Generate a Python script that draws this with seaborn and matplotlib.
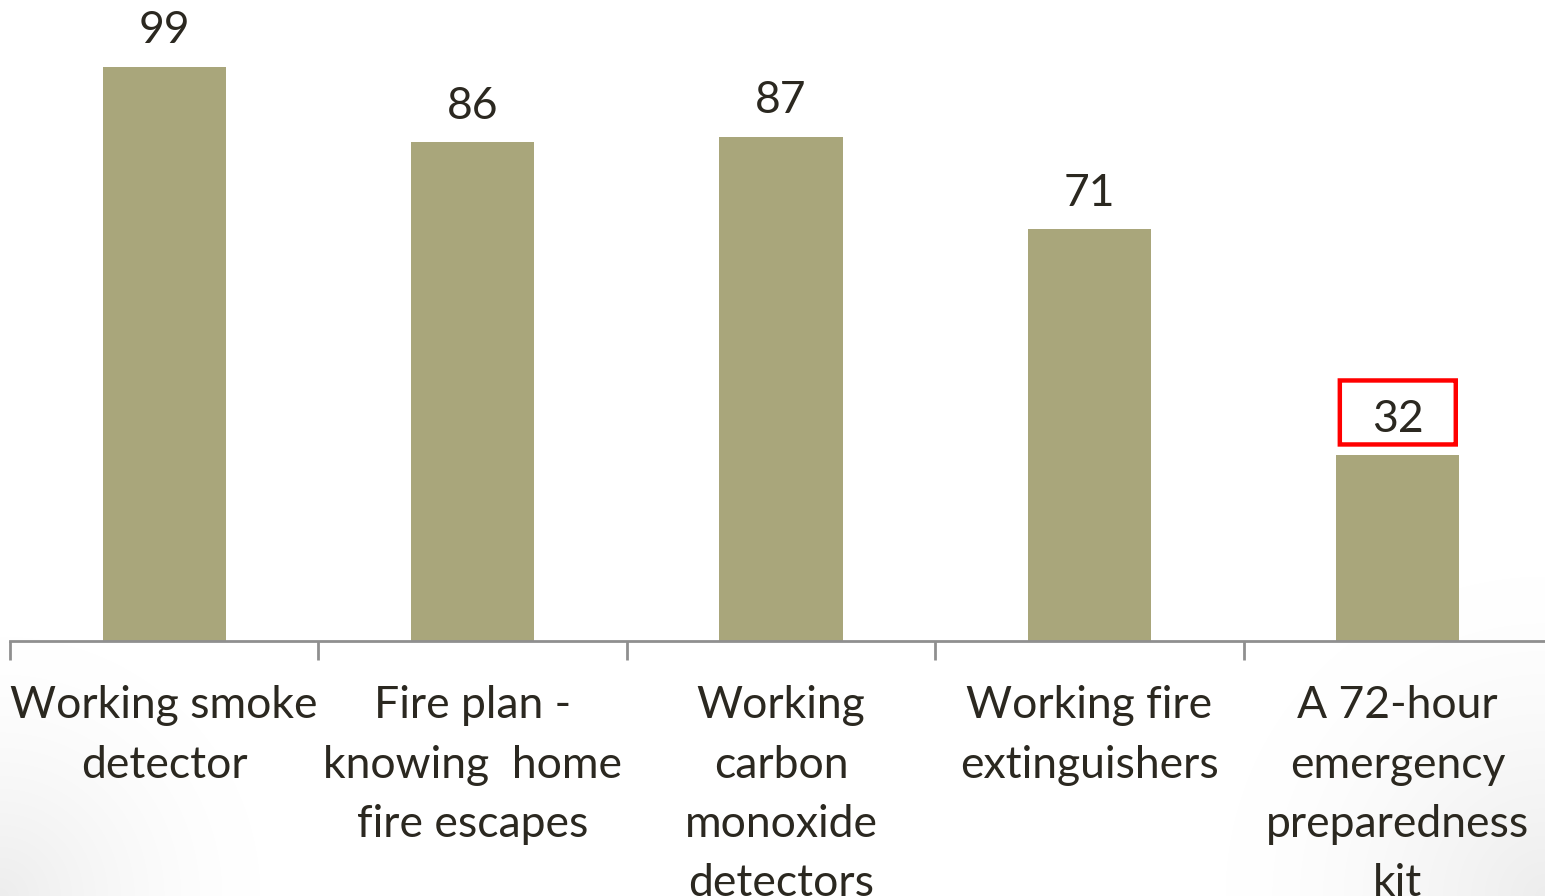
import matplotlib
matplotlib.use("Agg")
import matplotlib.pyplot as plt
import seaborn as sns
import pandas as pd
import numpy as np
from matplotlib.patches import FancyBboxPatch

categories = ["Working smoke\ndetector",
              "Fire plan -\nknowing  home\nfire escapes",
              "Working\ncarbon\nmonoxide\ndetectors",
              "Working fire\nextinguishers",
              "A 72-hour\nemergency\npreparedness\nkit"]
values = [99, 86, 87, 71, 32]
highlight_index = 4

BAR = "#A9A67B"
TXT = "#2B2820"
AXC = "#8F8F8F"

sns.set_theme(style="white")
plt.rcParams['font.family'] = ['Lato', 'DejaVu Sans']

df = pd.DataFrame({"cat": categories, "val": values})

fig = plt.figure(figsize=(15.45, 8.96), dpi=100)
W, H = 1545, 896

# subtle vignette in the bottom corners of the slide background
bg = fig.add_axes([0, 0, 1, 1], zorder=-10)
yy, xx = np.mgrid[0:H, 0:W]
d1 = np.hypot(xx - 0, yy - H)
d2 = np.hypot(xx - W, yy - H)
shade = 0.07 * (np.clip(1 - d1 / 260, 0, 1) ** 1.5 + np.clip(1 - d2 / 320, 0, 1) ** 1.5)
img = np.clip(1 - shade, 0, 1)
bg.imshow(np.dstack([img] * 3), aspect="auto", extent=(0, W, H, 0))
bg.set_axis_off()

base_px = 641
ax = fig.add_axes([10 / W, (H - base_px) / H, 1542 / W, base_px / H])

sns.barplot(data=df, x="cat", y="val", color=BAR, width=0.4, ax=ax,
            saturation=1, edgecolor="none")

ax.set_xlim(-0.5, 4.5)
ax.set_ylim(0, 641 / 5.798)
ax.set_xlabel("")
ax.set_ylabel("")
ax.set_yticks([])
for s in ["top", "right", "left"]:
    ax.spines[s].set_visible(False)
ax.spines["bottom"].set_color(AXC)
ax.spines["bottom"].set_linewidth(2)
ax.patch.set_alpha(0)

ax.set_xticks(np.arange(len(categories)))
ax.set_xticklabels(categories, fontsize=32, color=TXT, linespacing=1.55)
ax.tick_params(axis="x", which="major", length=0, pad=32)
ax.set_xticks(np.arange(len(categories) + 1) - 0.5, minor=True)
ax.tick_params(axis="x", which="minor", length=14, width=2, color=AXC,
               direction="out", bottom=True)

for i, v in enumerate(values):
    ax.annotate(str(v), (i, v), xytext=(0, 17), textcoords="offset points",
                ha="center", va="baseline", fontsize=32, color=TXT)

hv = values[highlight_index]
ppu = 5.798
box = FancyBboxPatch((highlight_index - 0.188, hv + 11 / ppu), 0.376, 64 / ppu,
                     boxstyle="round,pad=0,rounding_size=0.01",
                     fill=False, edgecolor="#FF0000", linewidth=3.2,
                     clip_on=False, mutation_aspect=1 / 20)
ax.add_patch(box)

fig.savefig("out.png", dpi=100)
